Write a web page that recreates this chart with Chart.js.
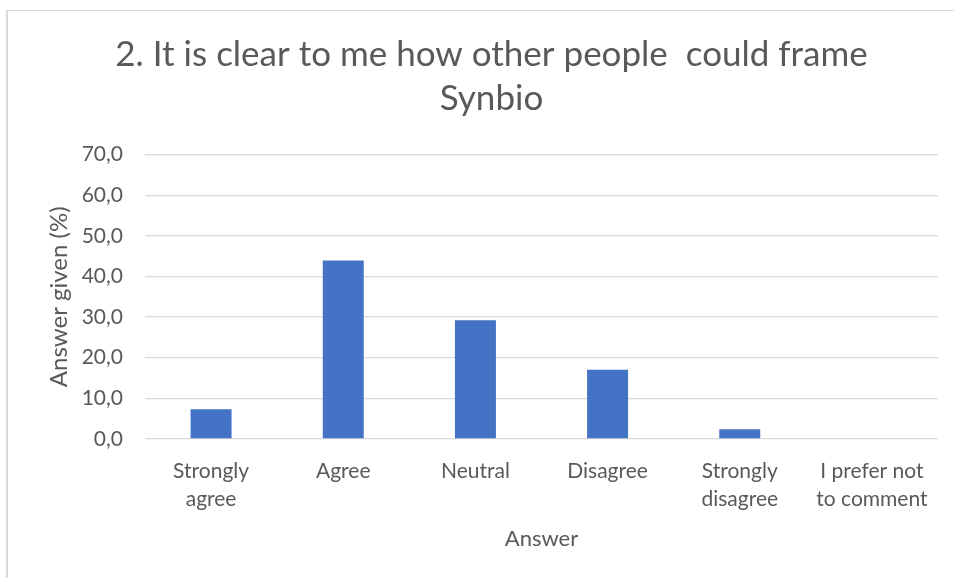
<!DOCTYPE html>
<html>
<head>
<meta charset="utf-8">
<script src="https://cdn.jsdelivr.net/npm/chart.js@4/dist/chart.umd.min.js"></script>
<style>
  html, body { margin: 0; padding: 0; background: #fff; }
  #wrap { position: relative; width: 954px; height: 578px; overflow: hidden; }
  #frame { position: absolute; left: 6px; top: 10px; width: 980px; height: 600px;
           border-left: 2px solid #d9d9d9; border-top: 1px solid #d9d9d9; }
  canvas { position: absolute; left: 0; top: 0; }
</style>
</head>
<body>
<div id="wrap">
  <div id="frame"></div>
  <canvas id="chart" width="954" height="578"></canvas>
</div>
<script>
const TITLE_LINES = ['2. It is clear to me how other people  could frame', 'Synbio'];
const CATEGORIES = [
  ['Strongly', 'agree'],
  'Agree',
  'Neutral',
  'Disagree',
  ['Strongly', 'disagree'],
  ['I prefer not', 'to comment'],
];
const VALUES = [7.3, 43.9, 29.2, 17.0, 2.4, 0.0];
const Y_MAX = 70;
const Y_STEP = 10;

const TEXT = '#595959';
const GRID = '#d9d9d9';

Chart.defaults.font.family = 'Lato, "Noto Sans", sans-serif';
Chart.defaults.color = TEXT;

// 70.0 -> "70,0"
const fmt = v => Number(v).toFixed(1).replace('.', ',');

new Chart(document.getElementById('chart').getContext('2d'), {
  type: 'bar',
  data: {
    labels: CATEGORIES,
    datasets: [{
      data: VALUES,
      backgroundColor: '#4472c4',
      borderWidth: 0,
      barPercentage: 0.31,
      categoryPercentage: 1.0,
    }],
  },
  options: {
    responsive: false,
    animation: false,
    layout: { padding: { left: 45, right: 16, top: 0, bottom: 26 } },
    plugins: {
      legend: { display: false },
      tooltip: { enabled: false },
      title: {
        display: true,
        text: TITLE_LINES,
        color: TEXT,
        font: { size: 35, weight: 'normal', lineHeight: 1.28 },
        padding: { top: 32, bottom: 33 },
      },
    },
    scales: {
      x: {
        grid: { display: false, drawTicks: false },
        border: { display: false },
        ticks: {
          color: TEXT,
          font: { size: 21, lineHeight: 1.35 },
          padding: 18,
          maxRotation: 0,
          autoSkip: false,
        },
        title: {
          display: true,
          text: 'Answer',
          color: TEXT,
          font: { size: 22 },
          padding: { top: -6, bottom: 0 },
        },
      },
      y: {
        min: 0,
        max: Y_MAX,
        grid: { color: GRID, lineWidth: 1.3, drawTicks: false },
        border: { display: false },
        ticks: {
          stepSize: Y_STEP,
          color: TEXT,
          font: { size: 21 },
          padding: 22,
          callback: v => fmt(v),
        },
        title: {
          display: true,
          text: 'Answer given (%)',
          color: TEXT,
          font: { size: 24 },
          padding: 0,
        },
        afterFit: axis => { axis.width = 100; },
      },
    },
  },
});
</script>
</body>
</html>
